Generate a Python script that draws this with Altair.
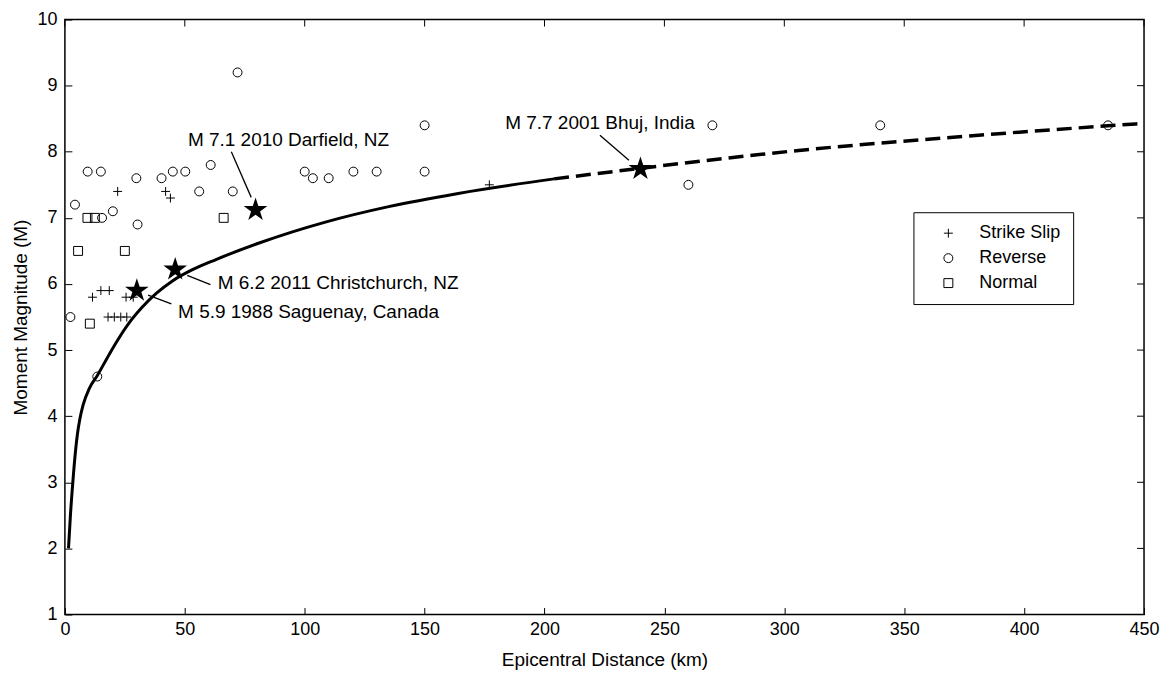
import altair as alt
import pandas as pd

FONT = "Liberation Sans"

# ---- data ----
ss_km = [22, 42, 44, 177, 11.5, 15, 18.5, 25.5, 28.5, 18, 20.6, 23.3, 25.8]
ss_m = [7.4, 7.4, 7.3, 7.5, 5.8, 5.9, 5.9, 5.8, 5.8, 5.5, 5.5, 5.5, 5.5]

rev_km = [72, 4.2, 9.5, 15, 15.5, 20, 30.3, 29.8, 40.3, 45, 50.2, 60.8, 56, 70,
          100, 103.4, 110, 120.3, 130, 150, 150, 270, 260, 340, 435, 2.3, 13.5]
rev_m = [9.2, 7.2, 7.7, 7.7, 7.0, 7.1, 6.9, 7.6, 7.6, 7.7, 7.7, 7.8, 7.4, 7.4,
         7.7, 7.6, 7.6, 7.7, 7.7, 7.7, 8.4, 8.4, 7.5, 8.4, 8.4, 5.5, 4.6]

nor_km = [9.4, 12.5, 66.2, 5.5, 25, 10.4]
nor_m = [7.0, 7.0, 7.0, 6.5, 6.5, 5.4]

curve_km = [1.5, 2.3, 3.3, 4.5, 5.3, 6.2, 7.6, 10.2, 13.6, 18.7, 22.5, 27.8, 32.0,
            38.2, 45.0, 53.4, 63.0, 81.0, 109.0, 135.0, 164.0, 204.0]
curve_m = [2.0, 2.5, 3.0, 3.5, 3.75, 3.95, 4.17, 4.42, 4.62, 4.95, 5.18, 5.46, 5.64,
           5.86, 6.05, 6.22, 6.37, 6.62, 6.94, 7.17, 7.37, 7.59]

ext_km = [204.0, 240.0, 306.0, 381.0, 450.0]
ext_m = [7.59, 7.75, 8.02, 8.25, 8.43]

star_km = [30, 46, 79.5, 240]
star_m = [5.9, 6.22, 7.12, 7.74]

label_text = ["M 5.9 1988 Saguenay, Canada", "M 6.2 2011 Christchurch, NZ",
              "M 7.1 2010 Darfield, NZ", "M 7.7 2001 Bhuj, India"]
label_km = [47.2, 63.7, 51.3, 183.6]
label_m = [5.58, 6.01, 8.18, 8.44]

lead_km = [34.7, 51.0, 69.4, 223.1]
lead_m = [5.83, 6.13, 8.0, 8.25]
lead_km2 = [44.4, 60.7, 77.7, 235.2]
lead_m2 = [5.70, 5.99, 7.31, 7.87]

x_ticks = [0, 50, 100, 150, 200, 250, 300, 350, 400, 450]
y_ticks = [1, 2, 3, 4, 5, 6, 7, 8, 9, 10]

types = ["Strike Slip", "Reverse", "Normal"]

# ---- tables ----
pts = pd.concat([
    pd.DataFrame({"km": ss_km, "M": ss_m, "type": "Strike Slip"}),
    pd.DataFrame({"km": rev_km, "M": rev_m, "type": "Reverse"}),
    pd.DataFrame({"km": nor_km, "M": nor_m, "type": "Normal"}),
], ignore_index=True)
curve_df = pd.DataFrame({"km": curve_km, "M": curve_m})
ext_df = pd.DataFrame({"km": ext_km, "M": ext_m})
star_df = pd.DataFrame({"km": star_km, "M": star_m})
lab_df = pd.DataFrame({"km": label_km, "M": label_m, "text": label_text})
lead_df = pd.DataFrame({"km": lead_km, "M": lead_m, "km2": lead_km2, "M2": lead_m2})
xt_df = pd.DataFrame({"km": x_ticks})
yt_df = pd.DataFrame({"M": y_ticks})

W, H = 1081, 596
TICK = 7

xs = alt.Scale(domain=[0, 450], nice=False, zero=False)
ys = alt.Scale(domain=[1, 10], nice=False, zero=False)

X_AX = alt.Axis(orient="bottom", values=x_ticks, title="Epicentral Distance (km)",
                labelPadding=6, titlePadding=12, tickSize=TICK, offset=-TICK,
                domain=False, grid=False, tickColor="black", tickWidth=1,
                labelFlush=False, labelOverlap=False, format="d")
Y_AX = alt.Axis(orient="left", values=y_ticks, title="Moment Magnitude (M)",
                labelPadding=8, titlePadding=6, tickSize=TICK, offset=-TICK,
                domain=False, grid=False, tickColor="black", tickWidth=1,
                labelFlush=False, labelOverlap=False, format="d")

STAR = ("M0,-1L0.2245,-0.309L0.951,-0.309L0.363,0.118L0.588,0.809L0,0.382"
        "L-0.588,0.809L-0.363,0.118L-0.951,-0.309L-0.2245,-0.309Z")
PLUS = "M-1,0L1,0M0,-1L0,1"

NBSP = "\u00a0" * 6

solid = alt.Chart(curve_df).mark_line(color="black", strokeWidth=3,
                                      interpolate="monotone").encode(
    x=alt.X("km:Q", scale=xs, axis=X_AX),
    y=alt.Y("M:Q", scale=ys, axis=Y_AX),
)

dashed = alt.Chart(ext_df).mark_line(color="black", strokeWidth=3.5,
                                     strokeDash=[15, 7],
                                     interpolate="monotone").encode(
    x="km:Q", y="M:Q",
)

# inward ticks on the top and right edges of the frame
top_ticks = alt.Chart(xt_df).mark_rule(color="black", strokeWidth=1).encode(
    x="km:Q", y=alt.value(0), y2=alt.value(TICK))
right_ticks = alt.Chart(yt_df).mark_rule(color="black", strokeWidth=1).encode(
    y="M:Q", x=alt.value(W - TICK), x2=alt.value(W))

points = alt.Chart(pts).mark_point(filled=False, strokeWidth=1, opacity=1,
                                   color="black", size=80).encode(
    x="km:Q", y="M:Q",
    shape=alt.Shape("type:N", scale=alt.Scale(domain=types, range=[PLUS, "circle", "square"]),
                    legend=alt.Legend(
                        title=None, orient="none", legendX=850, legendY=193,
                        strokeColor="black", fillColor="white", padding=12,
                        labelFont=FONT, labelFontSize=18, labelColor="black",
                        symbolSize=80, symbolStrokeColor="black",
                        symbolFillColor="white", symbolStrokeWidth=1,
                        symbolOffset=14, labelOffset=22, rowPadding=7,
                        labelExpr="datum.label + '" + NBSP + "'")),
)

stars = alt.Chart(star_df).mark_point(shape=STAR, filled=True, color="black",
                                      size=620, opacity=1).encode(
    x="km:Q", y="M:Q",
)

leaders = alt.Chart(lead_df).mark_rule(color="black", strokeWidth=1.3).encode(
    x="km:Q", y="M:Q", x2="km2:Q", y2="M2:Q",
)

labels = alt.Chart(lab_df).mark_text(align="left", baseline="middle", font=FONT,
                                     fontSize=19, color="black").encode(
    x="km:Q", y="M:Q", text="text:N",
)

chart = alt.layer(solid, dashed, top_ticks, right_ticks, points, stars, leaders, labels).properties(
    width=W, height=H,
    autosize=alt.AutoSizeParams(type="none"),
    padding={"left": 57, "top": 11, "right": 16, "bottom": 55},
).configure_view(
    stroke="black", strokeWidth=1.5
).configure_axis(
    labelFont=FONT, titleFont=FONT, labelFontSize=18, titleFontSize=19,
    titleFontWeight="normal", labelColor="black", titleColor="black",
)

chart.save("out.html", embed_options={"renderer": "svg", "actions": False})
